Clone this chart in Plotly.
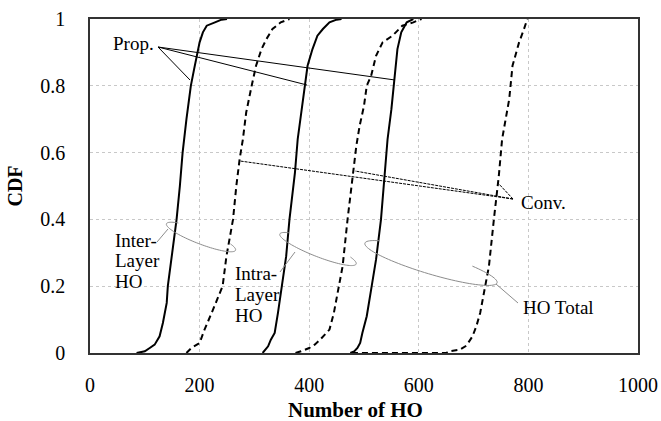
import numpy as np
import plotly.graph_objects as go

# ---------------- data ----------------
prop_inter_x = [85, 100, 109, 118, 127, 133, 140, 142, 150, 158, 164, 169, 176, 184, 190, 195, 200, 206, 213, 228, 240, 250]
prop_inter_y = [0, 0.005, 0.015, 0.025, 0.05, 0.09, 0.15, 0.2, 0.3, 0.4, 0.5, 0.6, 0.7, 0.8, 0.85, 0.89, 0.93, 0.96, 0.98, 0.99, 0.998, 1.0]

conv_inter_x = [176, 185, 200, 209, 222, 234, 242, 249, 255, 261, 267, 273, 279, 285, 295, 303, 313, 322, 333, 348, 364]
conv_inter_y = [0, 0.015, 0.03, 0.07, 0.12, 0.17, 0.2, 0.29, 0.35, 0.4, 0.5, 0.58, 0.64, 0.72, 0.8, 0.86, 0.91, 0.94, 0.97, 0.99, 1.0]

prop_intra_x = [315, 320, 325, 330, 337, 343, 350, 358, 364, 370, 374, 379, 386, 393, 397, 406, 415, 425, 437, 450, 459]
prop_intra_y = [0, 0.01, 0.02, 0.04, 0.06, 0.12, 0.2, 0.29, 0.4, 0.48, 0.54, 0.64, 0.72, 0.8, 0.86, 0.91, 0.95, 0.97, 0.99, 0.998, 1.0]

conv_intra_x = [375, 385, 400, 410, 420, 437, 445, 452, 461, 470, 479, 486, 492, 500, 505, 513, 522, 534, 552, 570, 590, 605]
conv_intra_y = [0, 0.005, 0.015, 0.025, 0.04, 0.07, 0.12, 0.18, 0.26, 0.4, 0.53, 0.62, 0.68, 0.74, 0.8, 0.83, 0.89, 0.93, 0.95, 0.98, 0.99, 1.0]

prop_total_x = [475, 482, 488, 493, 497, 505, 513, 522, 531, 537, 543, 550, 555, 561, 568, 578, 590]
prop_total_y = [0, 0.005, 0.015, 0.03, 0.06, 0.11, 0.19, 0.28, 0.4, 0.53, 0.64, 0.73, 0.82, 0.91, 0.96, 0.99, 1.0]

conv_total_x = [478, 650, 655, 675, 685, 690, 698, 705, 712, 719, 728, 737, 746, 752, 759, 765, 771, 783, 792, 798]
conv_total_y = [0, 0, 0.005, 0.01, 0.02, 0.03, 0.05, 0.08, 0.12, 0.18, 0.26, 0.4, 0.53, 0.64, 0.71, 0.76, 0.86, 0.93, 0.97, 1.0]

x_ticks = [0, 200, 400, 600, 800, 1000]
y_ticks = [0, 0.2, 0.4, 0.6, 0.8, 1]
y_tick_labels = ["0", "0.2", "0.4", "0.6", "0.8", "1"]

series = [
    (prop_inter_x, prop_inter_y, "solid"),
    (conv_inter_x, conv_inter_y, "dash"),
    (prop_intra_x, prop_intra_y, "solid"),
    (conv_intra_x, conv_intra_y, "dash"),
    (prop_total_x, prop_total_y, "solid"),
    (conv_total_x, conv_total_y, "dash"),
]

# ---------------- layout geometry ----------------
W, H = 661, 421
L, R, T, B = 90, 23, 19, 68
PW = W - L - R
PH = H - T - B

def d(px, py):
    """pixel position inside the figure -> data coordinates (for annotations)"""
    return ((px - L) / PW * 1000.0, (H - B - py) / PH)

FONT = "Liberation Serif, Times New Roman, serif"

fig = go.Figure()
for xs, ys, dash in series:
    fig.add_trace(go.Scatter(
        x=xs, y=ys, mode="lines",
        line=dict(color="black", width=2, dash=("6px,4px" if dash == "dash" else "solid")),
        showlegend=False, hoverinfo="skip"))

shapes = []

def seg(p, q, color="black", width=1, dash="solid"):
    a = d(*p); b = d(*q)
    shapes.append(dict(type="line", xref="x", yref="y", x0=a[0], y0=a[1], x1=b[0], y1=b[1],
                       line=dict(color=color, width=width, dash=dash), layer="above"))

def arc(cx, cy, a, b, theta, t0, t1, color="#8c8c8c", width=1):
    th = np.radians(theta)
    u = np.array([np.cos(th), np.sin(th)])
    v = np.array([-np.sin(th), np.cos(th)])
    ts = np.linspace(t0, t1, 80)
    pts = [np.array([cx, cy]) + a * np.cos(t) * u + b * np.sin(t) * v for t in ts]
    dd = [d(p[0], p[1]) for p in pts]
    path = "M " + " L ".join(f"{x:.3f},{y:.5f}" for x, y in dd)
    shapes.append(dict(type="path", xref="x", yref="y", path=path,
                       line=dict(color=color, width=width), layer="above"))

# Prop. leader lines
apex = (158, 47)
for end in [(190, 80), (307, 85), (395, 80)]:
    seg(apex, end, width=1)

# Conv. leader lines
capex = (513, 199)
for end in [(498, 183), (355, 171), (240, 161)]:
    seg(capex, end, width=1, dash="3px,1px")

# grouping ellipses
arc(201, 237, 37, 7, 21, -0.2 * np.pi, 1.25 * np.pi)
arc(318, 249, 41, 7.5, 21.5, -0.2 * np.pi, 1.2 * np.pi)
arc(431, 263, 69, 11, 16.7, -0.3 * np.pi, 1.2 * np.pi)

# gray leader lines to labels
seg((157, 242), (168, 229), color="#8c8c8c")
seg((280, 272), (295, 252), color="#8c8c8c")
seg((518, 303), (496, 284), color="#8c8c8c")

annotations = []

def txt(s, px, py, anchor="left"):
    x, y = d(px, py)
    annotations.append(dict(x=x, y=y, xref="x", yref="y", text=s, showarrow=False,
                            xanchor=anchor, yanchor="middle",
                            font=dict(family=FONT, size=19, color="black")))

txt("Prop.", 133, 43, "center")
txt("Conv.", 519, 202)
txt("Inter-", 113, 240)
txt("Layer", 113, 260)
txt("HO", 113, 281)
txt("Intra-", 233, 273)
txt("Layer", 233, 294)
txt("HO", 233, 315)
txt("HO Total", 521, 307)

# x-axis title (paper coords are relative to the plot area)
annotations.append(dict(x=(355 - L) / PW, y=(H - B - 410) / PH, xref="paper", yref="paper",
                        text="<b>Number of HO</b>", showarrow=False,
                        xanchor="center", yanchor="middle",
                        font=dict(family=FONT, size=21, color="black")))

fig.update_layout(
    width=W, height=H,
    margin=dict(l=L, r=R, t=T, b=B, autoexpand=False),
    paper_bgcolor="white", plot_bgcolor="white",
    font=dict(family=FONT, size=20, color="black"),
    shapes=shapes, annotations=annotations,
    xaxis=dict(range=[0, 1000], tickvals=x_ticks, ticktext=[str(v) for v in x_ticks],
               showgrid=True, gridcolor="#c8c8c8", griddash="dot", gridwidth=1,
               zeroline=False, showline=True, linecolor="#333333", linewidth=1.5, mirror=True,
               ticks="", ticklabelstandoff=13, tickfont=dict(family=FONT, size=20), automargin=False),
    yaxis=dict(range=[0, 1], tickvals=y_ticks, ticktext=y_tick_labels,
               showgrid=True, gridcolor="#c8c8c8", griddash="dot", gridwidth=1,
               zeroline=False, showline=True, linecolor="#333333", linewidth=1.5, mirror=True,
               ticks="", ticklabelstandoff=19, tickfont=dict(family=FONT, size=20), automargin=False,
               title=dict(text="<b>CDF</b>", font=dict(family=FONT, size=20), standoff=12)),
)

fig.write_html("out.html", config={"displayModeBar": False},
               post_script="document.body.style.margin='0';")
